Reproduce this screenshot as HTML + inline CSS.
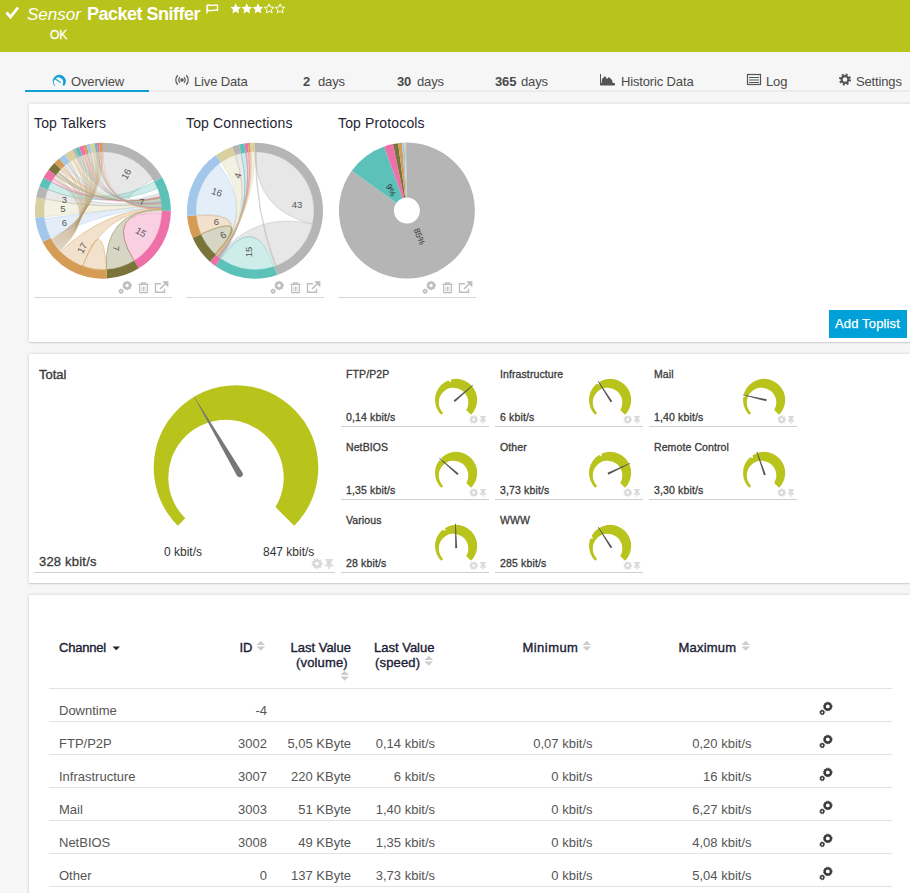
<!DOCTYPE html>
<html><head><meta charset="utf-8">
<style>
*{box-sizing:border-box;margin:0;padding:0}
html,body{width:910px;height:893px;overflow:hidden;background:#f6f6f6;font-family:"Liberation Sans",sans-serif;color:#333}
.a{position:absolute;white-space:nowrap;line-height:1}
#hdr{position:absolute;left:0;top:0;width:910px;height:52px;background:#b8c31c}
.panel{position:absolute;left:29px;width:890px;background:#fff;box-shadow:0 0 3px rgba(0,0,0,.16),0 1px 1px rgba(0,0,0,.08)}
.tab{font-size:13px;color:#4a4a4a;letter-spacing:-0.15px}
.ttl{font-size:14px;color:#1f2433;letter-spacing:0.15px}
.gt{font-size:10.5px;color:#3a3a3a;letter-spacing:0.1px;-webkit-text-stroke:0.3px #3a3a3a}
.gv{font-size:10.5px;color:#3a3a3a;letter-spacing:0.15px;-webkit-text-stroke:0.3px #3a3a3a}
.th{font-size:13px;color:#1b2035;letter-spacing:0.15px;-webkit-text-stroke:0.35px #1b2035}
.td{font-size:13px;color:#555}
.r{text-align:right}
svg{position:absolute;left:0;top:0}
</style></head><body>
<div id="hdr">
  <svg width="40" height="30" style="left:0;top:0"><path d="M6.5,12.5L10.5,17L18,7.5" fill="none" stroke="#fff" stroke-width="2.8"/></svg>
  <div class="a" style="left:27px;top:6px;font-size:17px;color:#fff;font-style:italic">Sensor</div>
  <div class="a" style="left:87px;top:5px;font-size:18px;color:#fff;font-weight:bold;letter-spacing:-0.5px">Packet Sniffer</div>
  <svg width="300" height="20" style="left:0;top:0">
   <path d="M207,13.5V4.8M207.5,5.2c2,-0.8 3.5,0.8 5,0.2c1.5,-0.5 3,-0.6 5,-0.2v5c-2,-0.5 -3.5,0 -5,0.3c-1.5,0.3 -3,0.2 -5,-0.2z" fill="none" stroke="#fff" stroke-width="1.4"/>
  </svg>
  <svg width="300" height="20" style="left:0;top:0"><path d="M235.70,3.30 L237.29,6.72 L241.03,7.17 L238.27,9.73 L238.99,13.43 L235.70,11.60 L232.41,13.43 L233.13,9.73 L230.37,7.17 L234.11,6.72Z" fill="#fff"/><path d="M246.80,3.30 L248.39,6.72 L252.13,7.17 L249.37,9.73 L250.09,13.43 L246.80,11.60 L243.51,13.43 L244.23,9.73 L241.47,7.17 L245.21,6.72Z" fill="#fff"/><path d="M258.00,3.30 L259.59,6.72 L263.33,7.17 L260.57,9.73 L261.29,13.43 L258.00,11.60 L254.71,13.43 L255.43,9.73 L252.67,7.17 L256.41,6.72Z" fill="#fff"/><path d="M269.20,3.90 L270.55,7.04 L273.96,7.35 L271.39,9.61 L272.14,12.95 L269.20,11.20 L266.26,12.95 L267.01,9.61 L264.44,7.35 L267.85,7.04Z" fill="none" stroke="#fff" stroke-width="1" stroke-linejoin="miter"/><path d="M280.10,3.90 L281.45,7.04 L284.86,7.35 L282.29,9.61 L283.04,12.95 L280.10,11.20 L277.16,12.95 L277.91,9.61 L275.34,7.35 L278.75,7.04Z" fill="none" stroke="#fff" stroke-width="1" stroke-linejoin="miter"/></svg>
  <div class="a" style="left:50px;top:29px;font-size:12px;color:#fff;-webkit-text-stroke:0.3px #fff">OK</div>
</div>
<!-- tabs -->
<div class="a" style="left:25px;top:90px;width:885px;height:2px;background:#ebebeb"></div>
<div class="a" style="left:25px;top:90px;width:124px;height:2px;background:#109fd9"></div>
<svg width="910" height="100" style="left:0;top:0">
 <path d="M54.64,86.01A6.58,6.58 0 1 1 63.96,86.01L62.46,84.51A4.62,4.62 0 1 0 55.24,85.41Z" fill="#109fd9"/>
 <path d="M55.4,79L60.4,82.4" stroke="#109fd9" stroke-width="1.1" stroke-linecap="round"/>
 <g fill="none" stroke="#555" stroke-width="1.2">
  <path d="M177.8,75.3A6.5,6.5 0 0 0 177.8,84.7M186.2,75.3A6.5,6.5 0 0 1 186.2,84.7"/>
  <path d="M180,77.2A3.8,3.8 0 0 0 180,82.8M184,77.2A3.8,3.8 0 0 1 184,82.8"/>
 </g>
 <circle cx="182" cy="80" r="1.7" fill="#555"/>
 <path d="M600.5,74v11h14v-1.5h-13" fill="#555" stroke="#555"/>
 <path d="M602,84L602,79L605,76L607,79L609,77L612,80L613,84Z" fill="#555"/>
 <rect x="747.5" y="74.5" width="13" height="10" fill="none" stroke="#555" stroke-width="1.2"/>
 <path d="M749,77.5h10M749,80h10M749,82.5h10" stroke="#555" stroke-width="1"/>
 <circle cx="845" cy="79.5" r="3.4" fill="none" stroke="#555" stroke-width="2.2"/>
 <circle cx="845" cy="79.5" r="5" fill="none" stroke="#555" stroke-width="2" stroke-dasharray="2 1.93"/>
</svg>
<div class="a tab" style="left:71px;top:75px">Overview</div>
<div class="a tab" style="left:194px;top:75px">Live Data</div>
<div class="a tab" style="left:303px;top:75px"><b>2</b></div><div class="a tab" style="left:318px;top:75px">days</div>
<div class="a tab" style="left:397px;top:75px"><b>30</b></div><div class="a tab" style="left:417px;top:75px">days</div>
<div class="a tab" style="left:495px;top:75px"><b>365</b></div><div class="a tab" style="left:521px;top:75px">days</div>
<div class="a tab" style="left:621px;top:75px">Historic Data</div>
<div class="a tab" style="left:766px;top:75px">Log</div>
<div class="a tab" style="left:856px;top:75px">Settings</div>

<!-- panel 1 -->
<div class="panel" style="top:104px;height:238px"></div>
<div class="a ttl" style="left:34px;top:116px">Top Talkers</div>
<div class="a ttl" style="left:186px;top:116px">Top Connections</div>
<div class="a ttl" style="left:338px;top:116px">Top Protocols</div>
<svg width="910" height="350">
 <path d="M102.90,151.70A59,59 0 0 1 152.93,179.43Q102.9,210.7 159.32,193.45A59,59 0 0 1 161.58,204.53Q102.9,210.7 102.90,151.70Z" fill="#b5b5b5" fill-opacity="0.33" stroke="#b5b5b5" stroke-opacity="0.7" stroke-width="0.6"/><path d="M154.25,181.65A59,59 0 0 1 157.60,188.60Q102.9,210.7 47.82,189.56A59,59 0 0 1 51.30,182.10Q102.9,210.7 154.25,181.65Z" fill="#5cc2b9" fill-opacity="0.3" stroke="#5cc2b9" stroke-opacity="0.7" stroke-width="0.6"/><path d="M161.86,212.76A59,59 0 0 1 134.17,260.73Q102.9,210.7 161.86,212.76Z" fill="#ee70a8" fill-opacity="0.33" stroke="#ee70a8" stroke-opacity="0.7" stroke-width="0.6"/><path d="M134.17,260.73A59,59 0 0 1 106.50,269.59Q102.9,210.7 161.86,208.64A59,59 0 0 1 161.90,210.70Q102.9,210.7 134.17,260.73Z" fill="#7a733a" fill-opacity="0.3" stroke="#7a733a" stroke-opacity="0.7" stroke-width="0.6"/><path d="M106.50,269.59A59,59 0 0 1 82.72,266.14Q102.9,210.7 106.50,269.59Z" fill="#d49c55" fill-opacity="0.3" stroke="#d49c55" stroke-opacity="0.7" stroke-width="0.6"/><path d="M82.72,266.14A59,59 0 0 1 60.46,251.68Q102.9,210.7 161.76,206.58A59,59 0 0 1 161.86,208.64Q102.9,210.7 82.72,266.14Z" fill="#d49c55" fill-opacity="0.3" stroke="#d49c55" stroke-opacity="0.7" stroke-width="0.6"/><path d="M50.33,237.49A59,59 0 0 1 44.47,218.91Q102.9,210.7 161.58,204.53A59,59 0 0 1 161.76,206.58Q102.9,210.7 50.33,237.49Z" fill="#a2c7ea" fill-opacity="0.3" stroke="#a2c7ea" stroke-opacity="0.7" stroke-width="0.6"/><path d="M44.22,216.87A59,59 0 0 1 44.98,199.44Q102.9,210.7 161.33,202.49A59,59 0 0 1 161.58,204.53Q102.9,210.7 44.22,216.87Z" fill="#d8d09f" fill-opacity="0.3" stroke="#d8d09f" stroke-opacity="0.7" stroke-width="0.6"/><path d="M45.08,198.94A59,59 0 0 1 47.82,189.56Q102.9,210.7 161.00,200.45A59,59 0 0 1 161.33,202.49Q102.9,210.7 45.08,198.94Z" fill="#b5b5b5" fill-opacity="0.3" stroke="#b5b5b5" stroke-opacity="0.7" stroke-width="0.6"/><path d="M51.30,182.10A59,59 0 0 1 53.42,178.57Q102.9,210.7 160.15,196.43A59,59 0 0 1 160.29,197.03Q102.9,210.7 51.30,182.10Z" fill="#ee70a8" fill-opacity="0.3" stroke="#ee70a8" stroke-opacity="0.5" stroke-width="0.6"/><path d="M53.42,178.57A59,59 0 0 1 55.78,175.19Q102.9,210.7 59.75,250.94A59,59 0 0 1 59.33,250.48Q102.9,210.7 53.42,178.57Z" fill="#b89a6e" fill-opacity="0.25" stroke="#b89a6e" stroke-opacity="0.45" stroke-width="0.6"/><path d="M55.78,175.19A59,59 0 0 1 58.20,172.19Q102.9,210.7 160.36,197.33A59,59 0 0 1 160.50,197.93Q102.9,210.7 55.78,175.19Z" fill="#7a733a" fill-opacity="0.3" stroke="#7a733a" stroke-opacity="0.5" stroke-width="0.6"/><path d="M58.20,172.19A59,59 0 0 1 60.82,169.35Q102.9,210.7 59.02,250.14A59,59 0 0 1 58.61,249.68Q102.9,210.7 58.20,172.19Z" fill="#b89a6e" fill-opacity="0.25" stroke="#b89a6e" stroke-opacity="0.45" stroke-width="0.6"/><path d="M60.82,169.35A59,59 0 0 1 62.85,167.37Q102.9,210.7 160.57,198.23A59,59 0 0 1 160.69,198.84Q102.9,210.7 60.82,169.35Z" fill="#d49c55" fill-opacity="0.3" stroke="#d49c55" stroke-opacity="0.5" stroke-width="0.6"/><path d="M62.85,167.37A59,59 0 0 1 64.98,165.50Q102.9,210.7 58.30,249.33A59,59 0 0 1 57.90,248.86Q102.9,210.7 62.85,167.37Z" fill="#b89a6e" fill-opacity="0.25" stroke="#b89a6e" stroke-opacity="0.45" stroke-width="0.6"/><path d="M64.98,165.50A59,59 0 0 1 67.39,163.58Q102.9,210.7 160.76,199.14A59,59 0 0 1 160.87,199.75Q102.9,210.7 64.98,165.50Z" fill="#a2c7ea" fill-opacity="0.3" stroke="#a2c7ea" stroke-opacity="0.5" stroke-width="0.6"/><path d="M67.39,163.58A59,59 0 0 1 69.91,161.79Q102.9,210.7 57.60,248.51A59,59 0 0 1 57.21,248.03Q102.9,210.7 67.39,163.58Z" fill="#b89a6e" fill-opacity="0.25" stroke="#b89a6e" stroke-opacity="0.45" stroke-width="0.6"/><path d="M69.91,161.79A59,59 0 0 1 73.18,159.73Q102.9,210.7 160.93,200.05A59,59 0 0 1 161.04,200.66Q102.9,210.7 69.91,161.79Z" fill="#d8d09f" fill-opacity="0.3" stroke="#d8d09f" stroke-opacity="0.5" stroke-width="0.6"/><path d="M73.18,159.73A59,59 0 0 1 76.57,157.90Q102.9,210.7 56.92,247.67A59,59 0 0 1 56.53,247.19Q102.9,210.7 73.18,159.73Z" fill="#b89a6e" fill-opacity="0.25" stroke="#b89a6e" stroke-opacity="0.45" stroke-width="0.6"/><path d="M76.57,157.90A59,59 0 0 1 77.73,157.34Q102.9,210.7 161.09,200.96A59,59 0 0 1 161.19,201.57Q102.9,210.7 76.57,157.90Z" fill="#b5b5b5" fill-opacity="0.3" stroke="#b5b5b5" stroke-opacity="0.5" stroke-width="0.6"/><path d="M77.73,157.34A59,59 0 0 1 78.90,156.80Q102.9,210.7 56.25,246.82A59,59 0 0 1 55.87,246.33Q102.9,210.7 77.73,157.34Z" fill="#b89a6e" fill-opacity="0.25" stroke="#b89a6e" stroke-opacity="0.45" stroke-width="0.6"/><path d="M78.90,156.80A59,59 0 0 1 80.56,156.09Q102.9,210.7 161.24,201.88A59,59 0 0 1 161.33,202.49Q102.9,210.7 78.90,156.80Z" fill="#5cc2b9" fill-opacity="0.3" stroke="#5cc2b9" stroke-opacity="0.5" stroke-width="0.6"/><path d="M80.56,156.09A59,59 0 0 1 82.24,155.44Q102.9,210.7 55.60,245.96A59,59 0 0 1 55.23,245.46Q102.9,210.7 80.56,156.09Z" fill="#b89a6e" fill-opacity="0.25" stroke="#b89a6e" stroke-opacity="0.45" stroke-width="0.6"/><path d="M82.24,155.44A59,59 0 0 1 84.18,154.75Q102.9,210.7 161.37,202.79A59,59 0 0 1 161.45,203.41Q102.9,210.7 82.24,155.44Z" fill="#ee70a8" fill-opacity="0.3" stroke="#ee70a8" stroke-opacity="0.5" stroke-width="0.6"/><path d="M84.18,154.75A59,59 0 0 1 86.14,154.13Q102.9,210.7 54.96,245.09A59,59 0 0 1 54.60,244.58Q102.9,210.7 84.18,154.75Z" fill="#b89a6e" fill-opacity="0.25" stroke="#b89a6e" stroke-opacity="0.45" stroke-width="0.6"/><path d="M86.14,154.13A59,59 0 0 1 87.38,153.78Q102.9,210.7 161.48,203.71A59,59 0 0 1 161.55,204.33Q102.9,210.7 86.14,154.13Z" fill="#d49c55" fill-opacity="0.3" stroke="#d49c55" stroke-opacity="0.5" stroke-width="0.6"/><path d="M87.38,153.78A59,59 0 0 1 88.63,153.45Q102.9,210.7 54.33,244.20A59,59 0 0 1 53.99,243.69Q102.9,210.7 87.38,153.78Z" fill="#b89a6e" fill-opacity="0.25" stroke="#b89a6e" stroke-opacity="0.45" stroke-width="0.6"/><path d="M88.63,153.45A59,59 0 0 1 90.13,153.10Q102.9,210.7 161.59,204.64A59,59 0 0 1 161.65,205.25Q102.9,210.7 88.63,153.45Z" fill="#a2c7ea" fill-opacity="0.3" stroke="#a2c7ea" stroke-opacity="0.5" stroke-width="0.6"/><path d="M90.13,153.10A59,59 0 0 1 91.64,152.78Q102.9,210.7 53.73,243.31A59,59 0 0 1 53.39,242.79Q102.9,210.7 90.13,153.10Z" fill="#b89a6e" fill-opacity="0.25" stroke="#b89a6e" stroke-opacity="0.45" stroke-width="0.6"/><path d="M91.64,152.78A59,59 0 0 1 93.67,152.43Q102.9,210.7 161.68,205.56A59,59 0 0 1 161.73,206.17Q102.9,210.7 91.64,152.78Z" fill="#d8d09f" fill-opacity="0.3" stroke="#d8d09f" stroke-opacity="0.5" stroke-width="0.6"/><path d="M93.67,152.43A59,59 0 0 1 95.71,152.14Q102.9,210.7 53.14,242.40A59,59 0 0 1 52.81,241.88Q102.9,210.7 93.67,152.43Z" fill="#b89a6e" fill-opacity="0.25" stroke="#b89a6e" stroke-opacity="0.45" stroke-width="0.6"/><path d="M95.71,152.14A59,59 0 0 1 96.73,152.02Q102.9,210.7 161.75,206.48A59,59 0 0 1 161.79,207.10Q102.9,210.7 95.71,152.14Z" fill="#5cc2b9" fill-opacity="0.3" stroke="#5cc2b9" stroke-opacity="0.5" stroke-width="0.6"/><path d="M96.73,152.02A59,59 0 0 1 97.76,151.92Q102.9,210.7 52.57,241.48A59,59 0 0 1 52.25,240.95Q102.9,210.7 96.73,152.02Z" fill="#b89a6e" fill-opacity="0.25" stroke="#b89a6e" stroke-opacity="0.45" stroke-width="0.6"/><path d="M97.76,151.92A59,59 0 0 1 98.78,151.84Q102.9,210.7 161.81,207.41A59,59 0 0 1 161.84,208.02Q102.9,210.7 97.76,151.92Z" fill="#ee70a8" fill-opacity="0.3" stroke="#ee70a8" stroke-opacity="0.5" stroke-width="0.6"/><path d="M98.78,151.84A59,59 0 0 1 99.81,151.78Q102.9,210.7 52.01,240.56A59,59 0 0 1 51.70,240.02Q102.9,210.7 98.78,151.84Z" fill="#b89a6e" fill-opacity="0.25" stroke="#b89a6e" stroke-opacity="0.45" stroke-width="0.6"/><path d="M99.81,151.78A59,59 0 0 1 101.36,151.72Q102.9,210.7 161.85,208.33A59,59 0 0 1 161.87,208.95Q102.9,210.7 99.81,151.78Z" fill="#d49c55" fill-opacity="0.3" stroke="#d49c55" stroke-opacity="0.5" stroke-width="0.6"/><path d="M101.36,151.72A59,59 0 0 1 102.90,151.70Q102.9,210.7 51.47,239.62A59,59 0 0 1 51.17,239.08Q102.9,210.7 101.36,151.72Z" fill="#b89a6e" fill-opacity="0.25" stroke="#b89a6e" stroke-opacity="0.45" stroke-width="0.6"/><path d="M102.90,142.70A68,68 0 0 1 162.08,177.22L154.25,181.65A59,59 0 0 0 102.90,151.70Z" fill="#b5b5b5"/><path d="M162.08,177.22A68,68 0 0 1 170.90,210.70L161.90,210.70A59,59 0 0 0 154.25,181.65Z" fill="#5cc2b9"/><path d="M170.90,210.70A68,68 0 0 1 138.93,268.37L134.17,260.73A59,59 0 0 0 161.90,210.70Z" fill="#ee70a8"/><path d="M138.93,268.37A68,68 0 0 1 107.05,278.57L106.50,269.59A59,59 0 0 0 134.17,260.73Z" fill="#7a733a"/><path d="M107.05,278.57A68,68 0 0 1 42.58,242.10L50.57,237.94A59,59 0 0 0 106.50,269.59Z" fill="#d49c55"/><path d="M42.58,242.10A68,68 0 0 1 35.27,217.81L44.22,216.87A59,59 0 0 0 50.57,237.94Z" fill="#a2c7ea"/><path d="M35.27,217.81A68,68 0 0 1 36.27,197.14L45.08,198.94A59,59 0 0 0 44.22,216.87Z" fill="#d8d09f"/><path d="M36.27,197.14A68,68 0 0 1 39.42,186.33L47.82,189.56A59,59 0 0 0 45.08,198.94Z" fill="#b5b5b5"/><path d="M39.42,186.33A68,68 0 0 1 43.43,177.73L51.30,182.10A59,59 0 0 0 47.82,189.56Z" fill="#5cc2b9"/><path d="M43.43,177.73A68,68 0 0 1 48.59,169.78L55.78,175.19A59,59 0 0 0 51.30,182.10Z" fill="#ee70a8"/><path d="M48.59,169.78A68,68 0 0 1 54.40,163.04L60.82,169.35A59,59 0 0 0 55.78,175.19Z" fill="#7a733a"/><path d="M54.40,163.04A68,68 0 0 1 59.19,158.61L64.98,165.50A59,59 0 0 0 60.82,169.35Z" fill="#d49c55"/><path d="M59.19,158.61A68,68 0 0 1 64.87,154.33L69.91,161.79A59,59 0 0 0 64.98,165.50Z" fill="#a2c7ea"/><path d="M64.87,154.33A68,68 0 0 1 72.56,149.84L76.57,157.90A59,59 0 0 0 69.91,161.79Z" fill="#d8d09f"/><path d="M72.56,149.84A68,68 0 0 1 75.24,148.58L78.90,156.80A59,59 0 0 0 76.57,157.90Z" fill="#b5b5b5"/><path d="M75.24,148.58A68,68 0 0 1 79.09,147.01L82.24,155.44A59,59 0 0 0 78.90,156.80Z" fill="#5cc2b9"/><path d="M79.09,147.01A68,68 0 0 1 83.59,145.50L86.14,154.13A59,59 0 0 0 82.24,155.44Z" fill="#ee70a8"/><path d="M83.59,145.50A68,68 0 0 1 86.45,144.72L88.63,153.45A59,59 0 0 0 86.14,154.13Z" fill="#d49c55"/><path d="M86.45,144.72A68,68 0 0 1 89.92,143.95L91.64,152.78A59,59 0 0 0 88.63,153.45Z" fill="#a2c7ea"/><path d="M89.92,143.95A68,68 0 0 1 94.61,143.21L95.71,152.14A59,59 0 0 0 91.64,152.78Z" fill="#d8d09f"/><path d="M94.61,143.21A68,68 0 0 1 96.97,142.96L97.76,151.92A59,59 0 0 0 95.71,152.14Z" fill="#5cc2b9"/><path d="M96.97,142.96A68,68 0 0 1 99.34,142.79L99.81,151.78A59,59 0 0 0 97.76,151.92Z" fill="#ee70a8"/><path d="M99.34,142.79A68,68 0 0 1 102.90,142.70L102.90,151.70A59,59 0 0 0 99.81,151.78Z" fill="#d49c55"/><text x="126" y="174" transform="rotate(-60 126 174)" text-anchor="middle" dominant-baseline="central" font-size="9.5" fill="#555">16</text><text x="142" y="201" transform="rotate(0 142 201)" text-anchor="middle" dominant-baseline="central" font-size="9.5" fill="#555">7</text><text x="141" y="232" transform="rotate(30 141 232)" text-anchor="middle" dominant-baseline="central" font-size="9.5" fill="#555">15</text><text x="116" y="248.5" transform="rotate(90 116 248.5)" text-anchor="middle" dominant-baseline="central" font-size="9.5" fill="#555">7</text><text x="82" y="248" transform="rotate(-60 82 248)" text-anchor="middle" dominant-baseline="central" font-size="9.5" fill="#555">17</text><text x="64.5" y="222.5" transform="rotate(0 64.5 222.5)" text-anchor="middle" dominant-baseline="central" font-size="9.5" fill="#555">6</text><text x="63" y="208.5" transform="rotate(0 63 208.5)" text-anchor="middle" dominant-baseline="central" font-size="9.5" fill="#555">5</text><text x="64.5" y="199.5" transform="rotate(0 64.5 199.5)" text-anchor="middle" dominant-baseline="central" font-size="9.5" fill="#555">3</text>
 <path d="M255.00,151.70A59,59 0 0 1 312.49,223.97Q255,210.7 255.00,151.70Z" fill="#b5b5b5" fill-opacity="0.33" stroke="#b5b5b5" stroke-opacity="0.7" stroke-width="0.6"/><path d="M312.49,223.97A59,59 0 0 1 275.18,266.14Q255,210.7 220.32,258.43A59,59 0 0 1 217.87,256.55Q255,210.7 312.49,223.97Z" fill="#b5b5b5" fill-opacity="0.33" stroke="#b5b5b5" stroke-opacity="0.7" stroke-width="0.6"/><path d="M255.31,151.70A59,59 0 0 1 256.24,151.71Q255,210.7 276.14,265.78A59,59 0 0 1 275.18,266.14Q255,210.7 255.31,151.70Z" fill="#b5b5b5" fill-opacity="0.2" stroke="#b5b5b5" stroke-opacity="0.7" stroke-width="0.6"/><path d="M273.72,266.65A59,59 0 0 1 220.74,258.73Q255,210.7 273.72,266.65Z" fill="#5cc2b9" fill-opacity="0.3" stroke="#5cc2b9" stroke-opacity="0.7" stroke-width="0.6"/><path d="M196.14,214.82A59,59 0 0 1 218.68,164.21Q255,210.7 217.87,256.55A59,59 0 0 1 216.68,255.56Q255,210.7 196.14,214.82Z" fill="#a2c7ea" fill-opacity="0.3" stroke="#a2c7ea" stroke-opacity="0.7" stroke-width="0.6"/><path d="M221.16,162.37A59,59 0 0 1 234.82,155.26Q255,210.7 216.68,255.56A59,59 0 0 1 215.91,254.89Q255,210.7 221.16,162.37Z" fill="#d8d09f" fill-opacity="0.3" stroke="#d8d09f" stroke-opacity="0.7" stroke-width="0.6"/><path d="M200.69,233.75A59,59 0 0 1 196.22,215.84Q255,210.7 215.52,254.55A59,59 0 0 1 214.76,253.85Q255,210.7 200.69,233.75Z" fill="#d49c55" fill-opacity="0.3" stroke="#d49c55" stroke-opacity="0.7" stroke-width="0.6"/><path d="M215.91,254.89A59,59 0 0 1 200.89,234.23Q255,210.7 215.91,254.89Z" fill="#7a733a" fill-opacity="0.3" stroke="#7a733a" stroke-opacity="0.7" stroke-width="0.6"/><path d="M235.21,155.12A59,59 0 0 1 241.13,153.35Q255,210.7 220.32,258.43A59,59 0 0 1 219.49,257.82Q255,210.7 235.21,155.12Z" fill="#b5b5b5" fill-opacity="0.3" stroke="#b5b5b5" stroke-opacity="0.7" stroke-width="0.6"/><path d="M241.13,153.35A59,59 0 0 1 245.77,152.43Q255,210.7 219.49,257.82A59,59 0 0 1 218.68,257.19Q255,210.7 241.13,153.35Z" fill="#5cc2b9" fill-opacity="0.3" stroke="#5cc2b9" stroke-opacity="0.7" stroke-width="0.6"/><path d="M245.77,152.43A59,59 0 0 1 248.83,152.02Q255,210.7 218.68,257.19A59,59 0 0 1 217.47,256.23Q255,210.7 245.77,152.43Z" fill="#ee70a8" fill-opacity="0.45" stroke="#ee70a8" stroke-opacity="0.7" stroke-width="0.6"/><path d="M248.83,152.02A59,59 0 0 1 250.88,151.84Q255,210.7 217.87,256.55A59,59 0 0 1 217.08,255.90Q255,210.7 248.83,152.02Z" fill="#d49c55" fill-opacity="0.3" stroke="#d49c55" stroke-opacity="0.7" stroke-width="0.6"/><path d="M250.88,151.84A59,59 0 0 1 254.69,151.70Q255,210.7 217.08,255.90A59,59 0 0 1 216.29,255.23Q255,210.7 250.88,151.84Z" fill="#d8d09f" fill-opacity="0.3" stroke="#d8d09f" stroke-opacity="0.7" stroke-width="0.6"/><path d="M255.00,142.70A68,68 0 0 1 277.14,275.00L274.21,266.49A59,59 0 0 0 255.00,151.70Z" fill="#b5b5b5"/><path d="M277.14,275.00A68,68 0 0 1 215.32,265.92L220.57,258.61A59,59 0 0 0 274.21,266.49Z" fill="#5cc2b9"/><path d="M215.32,265.92A68,68 0 0 1 209.94,261.63L215.91,254.89A59,59 0 0 0 220.57,258.61Z" fill="#ee70a8"/><path d="M209.94,261.63A68,68 0 0 1 192.64,237.81L200.89,234.23A59,59 0 0 0 215.91,254.89Z" fill="#7a733a"/><path d="M192.64,237.81A68,68 0 0 1 187.20,215.92L196.17,215.23A59,59 0 0 0 200.89,234.23Z" fill="#d49c55"/><path d="M187.20,215.92A68,68 0 0 1 216.00,155.00L221.16,162.37A59,59 0 0 0 196.17,215.23Z" fill="#a2c7ea"/><path d="M216.00,155.00A68,68 0 0 1 232.19,146.64L235.21,155.12A59,59 0 0 0 221.16,162.37Z" fill="#d8d09f"/><path d="M232.19,146.64A68,68 0 0 1 239.01,144.61L241.13,153.35A59,59 0 0 0 235.21,155.12Z" fill="#b5b5b5"/><path d="M239.01,144.61A68,68 0 0 1 244.36,143.54L245.77,152.43A59,59 0 0 0 241.13,153.35Z" fill="#5cc2b9"/><path d="M244.36,143.54A68,68 0 0 1 247.89,143.07L248.83,152.02A59,59 0 0 0 245.77,152.43Z" fill="#ee70a8"/><path d="M247.89,143.07A68,68 0 0 1 250.26,142.87L250.88,151.84A59,59 0 0 0 248.83,152.02Z" fill="#d49c55"/><path d="M250.26,142.87A68,68 0 0 1 255.00,142.70L255.00,151.70A59,59 0 0 0 250.88,151.84Z" fill="#d8d09f"/><text x="237.5" y="175.5" transform="rotate(-70 237.5 175.5)" text-anchor="middle" dominant-baseline="central" font-size="9.5" fill="#555">4</text><text x="217" y="192" transform="rotate(20 217 192)" text-anchor="middle" dominant-baseline="central" font-size="9.5" fill="#555">16</text><text x="297" y="204" transform="rotate(0 297 204)" text-anchor="middle" dominant-baseline="central" font-size="9.5" fill="#555">43</text><text x="216.5" y="221.5" transform="rotate(0 216.5 221.5)" text-anchor="middle" dominant-baseline="central" font-size="9.5" fill="#555">6</text><text x="223" y="235" transform="rotate(-30 223 235)" text-anchor="middle" dominant-baseline="central" font-size="9.5" fill="#555">6</text><text x="248.5" y="252" transform="rotate(-90 248.5 252)" text-anchor="middle" dominant-baseline="central" font-size="9.5" fill="#555">15</text>
 <path d="M406.90,142.60A68,68 0 1 1 351.75,170.82L396.36,203.00A13,13 0 1 0 406.90,197.60Z" fill="#b5b5b5"/><path d="M351.75,170.82A68,68 0 0 1 384.20,146.50L402.56,198.35A13,13 0 0 0 396.36,203.00Z" fill="#5cc2b9"/><path d="M384.20,146.50A68,68 0 0 1 392.99,144.04L404.24,197.87A13,13 0 0 0 402.56,198.35Z" fill="#ee70a8"/><path d="M392.99,144.04A68,68 0 0 1 398.14,143.17L405.23,197.71A13,13 0 0 0 404.24,197.87Z" fill="#7a733a"/><path d="M398.14,143.17A68,68 0 0 1 402.04,142.77L405.97,197.63A13,13 0 0 0 405.23,197.71Z" fill="#d49c55"/><path d="M402.04,142.77A68,68 0 0 1 404.53,142.64L406.45,197.61A13,13 0 0 0 405.97,197.63Z" fill="#a2c7ea"/><path d="M404.53,142.64A68,68 0 0 1 405.83,142.61L406.70,197.60A13,13 0 0 0 406.45,197.61Z" fill="#d8d09f"/><path d="M405.83,142.61A68,68 0 0 1 406.90,142.60L406.90,197.60A13,13 0 0 0 406.70,197.60Z" fill="#b5b5b5"/>
 <text x="391" y="190" transform="rotate(62 391 190)" text-anchor="middle" dominant-baseline="central" font-size="8.6" fill="#333">9%</text>
 <text x="419.5" y="236.5" transform="rotate(68 419.5 236.5)" text-anchor="middle" dominant-baseline="central" font-size="8.6" fill="#333">85%</text>
 <rect x="34" y="297" width="138" height="1" fill="#d6d6d6"/>
 <rect x="186" y="297" width="138" height="1" fill="#d6d6d6"/>
 <rect x="338" y="297" width="138" height="1" fill="#d6d6d6"/>
 <g fill="none" stroke="#bdbdbd"><circle cx="127.10" cy="285.50" r="2.9" stroke-width="2.4"/><circle cx="127.10" cy="285.50" r="4.1" stroke-width="1.1" stroke-dasharray="1.3 1.28"/><circle cx="121.10" cy="291.20" r="1.5" stroke-width="1.4"/><circle cx="121.10" cy="291.20" r="2.3" stroke-width="0.8" stroke-dasharray="0.9 0.9"/><path d="M138.30,284.30h10.4M141.50,284.20v-1.3h4v1.3M139.70,285.00v7.6h7.6v-7.6" stroke-width="1.2"/><path d="M142.00,286.50v4.8M143.50,286.50v4.8M145.00,286.50v4.8" stroke-width="0.8"/><path d="M161.00,283.80h-5.5v8.5h9v-3.5" stroke-width="1.4"/><path d="M160.00,289.00l5.5,-5.5" stroke-width="1.6"/><path d="M162.20,281.20h6.2v6.2z" fill="#bdbdbd" stroke="none"/></g>
 <g fill="none" stroke="#bdbdbd"><circle cx="279.10" cy="285.50" r="2.9" stroke-width="2.4"/><circle cx="279.10" cy="285.50" r="4.1" stroke-width="1.1" stroke-dasharray="1.3 1.28"/><circle cx="273.10" cy="291.20" r="1.5" stroke-width="1.4"/><circle cx="273.10" cy="291.20" r="2.3" stroke-width="0.8" stroke-dasharray="0.9 0.9"/><path d="M290.30,284.30h10.4M293.50,284.20v-1.3h4v1.3M291.70,285.00v7.6h7.6v-7.6" stroke-width="1.2"/><path d="M294.00,286.50v4.8M295.50,286.50v4.8M297.00,286.50v4.8" stroke-width="0.8"/><path d="M313.00,283.80h-5.5v8.5h9v-3.5" stroke-width="1.4"/><path d="M312.00,289.00l5.5,-5.5" stroke-width="1.6"/><path d="M314.20,281.20h6.2v6.2z" fill="#bdbdbd" stroke="none"/></g>
 <g fill="none" stroke="#bdbdbd"><circle cx="431.10" cy="285.50" r="2.9" stroke-width="2.4"/><circle cx="431.10" cy="285.50" r="4.1" stroke-width="1.1" stroke-dasharray="1.3 1.28"/><circle cx="425.10" cy="291.20" r="1.5" stroke-width="1.4"/><circle cx="425.10" cy="291.20" r="2.3" stroke-width="0.8" stroke-dasharray="0.9 0.9"/><path d="M442.30,284.30h10.4M445.50,284.20v-1.3h4v1.3M443.70,285.00v7.6h7.6v-7.6" stroke-width="1.2"/><path d="M446.00,286.50v4.8M447.50,286.50v4.8M449.00,286.50v4.8" stroke-width="0.8"/><path d="M465.00,283.80h-5.5v8.5h9v-3.5" stroke-width="1.4"/><path d="M464.00,289.00l5.5,-5.5" stroke-width="1.6"/><path d="M466.20,281.20h6.2v6.2z" fill="#bdbdbd" stroke="none"/></g>
</svg>
<div class="a" style="left:829px;top:310px;width:78px;height:28px;background:#00a1d9"></div>
<div class="a" style="left:835px;top:317px;font-size:13px;color:#fff;letter-spacing:0.15px;-webkit-text-stroke:0.25px #fff">Add Toplist</div>

<!-- panel 2 -->
<div class="panel" style="top:354px;height:229px"></div>
<div class="a" style="left:39px;top:368px;font-size:13px;color:#3a3a3a;-webkit-text-stroke:0.35px #3a3a3a">Total</div>
<div class="a" style="left:39px;top:555px;font-size:13px;color:#3a3a3a;letter-spacing:0.2px;-webkit-text-stroke:0.3px #3a3a3a">328 kbit/s</div>
<div class="a" style="left:34px;top:572px;width:301px;height:1px;background:#cfcfcf"></div>
<div class="a" style="left:164px;top:546px;font-size:12px;color:#333">0 kbit/s</div>
<div class="a" style="left:263px;top:546px;font-size:12px;color:#333">847 kbit/s</div>
<div class="a gt" style="left:346px;top:369px">FTP/P2P</div><div class="a gv" style="left:346px;top:412px">0,14 kbit/s</div><div class="a" style="left:341px;top:426px;width:148px;height:1px;background:#cfcfcf"></div><div class="a gt" style="left:500px;top:369px">Infrastructure</div><div class="a gv" style="left:500px;top:412px">6 kbit/s</div><div class="a" style="left:495px;top:426px;width:148px;height:1px;background:#cfcfcf"></div><div class="a gt" style="left:654px;top:369px">Mail</div><div class="a gv" style="left:654px;top:412px">1,40 kbit/s</div><div class="a" style="left:649px;top:426px;width:148px;height:1px;background:#cfcfcf"></div><div class="a gt" style="left:346px;top:442px">NetBIOS</div><div class="a gv" style="left:346px;top:485px">1,35 kbit/s</div><div class="a" style="left:341px;top:499px;width:148px;height:1px;background:#cfcfcf"></div><div class="a gt" style="left:500px;top:442px">Other</div><div class="a gv" style="left:500px;top:485px">3,73 kbit/s</div><div class="a" style="left:495px;top:499px;width:148px;height:1px;background:#cfcfcf"></div><div class="a gt" style="left:654px;top:442px">Remote Control</div><div class="a gv" style="left:654px;top:485px">3,30 kbit/s</div><div class="a" style="left:649px;top:499px;width:148px;height:1px;background:#cfcfcf"></div><div class="a gt" style="left:346px;top:515px">Various</div><div class="a gv" style="left:346px;top:558px">28 kbit/s</div><div class="a" style="left:341px;top:572px;width:148px;height:1px;background:#cfcfcf"></div><div class="a gt" style="left:500px;top:515px">WWW</div><div class="a gv" style="left:500px;top:558px">285 kbit/s</div><div class="a" style="left:495px;top:572px;width:148px;height:1px;background:#cfcfcf"></div>
<svg width="910" height="600">
 <path d="M177.81,525.79A82.3,82.3 0 1 1 294.19,525.79L275.52,507.12A57.7,57.7 0 1 0 185.25,518.35Z" fill="#b8c31c"/>
 <path d="M192.60,394.00L236.84,475.62A3.2,3.2 0 0 0 242.36,472.38Z" fill="#777"/>
 <g fill="#d9d9d9" stroke="none"><circle cx="317.01" cy="563.68" r="3.12" fill="none" stroke="#d9d9d9" stroke-width="2.60"/><circle cx="317.01" cy="563.68" r="4.68" fill="none" stroke="#d9d9d9" stroke-width="1.69" stroke-dasharray="1.56 1.47"/><rect x="325.46" y="559.00" width="7.28" height="1.82"/><rect x="326.76" y="560.56" width="4.68" height="4.16"/><rect x="324.94" y="564.59" width="8.32" height="1.82"/><rect x="328.32" y="566.15" width="1.56" height="2.99"/></g>
 <path d="M441.20,414.80A21.07,21.07 0 1 1 471.00,414.80L466.22,410.02A14.77,14.77 0 1 0 443.11,412.89Z" fill="#b8c31c"/><path d="M450.75,382.40L446.83,379.07L451.36,377.60Z" fill="#fff"/><path d="M454.93,402.02L473.01,385.62L472.55,385.09L453.63,400.51Z" fill="#555"/><g fill="#d9d9d9" stroke="none"><circle cx="473.70" cy="419.60" r="2.40" fill="none" stroke="#d9d9d9" stroke-width="2.00"/><circle cx="473.70" cy="419.60" r="3.60" fill="none" stroke="#d9d9d9" stroke-width="1.30" stroke-dasharray="1.20 1.13"/><rect x="480.20" y="416.00" width="5.60" height="1.40"/><rect x="481.20" y="417.20" width="3.60" height="3.20"/><rect x="479.80" y="420.30" width="6.40" height="1.40"/><rect x="482.40" y="421.50" width="1.20" height="2.30"/></g><path d="M595.20,414.80A21.07,21.07 0 1 1 625.00,414.80L620.22,410.02A14.77,14.77 0 1 0 597.11,412.89Z" fill="#b8c31c"/><path d="M599.87,384.73L595.14,382.69L599.05,379.96Z" fill="#fff"/><path d="M612.24,401.17L598.44,381.04L597.86,381.42L610.56,402.26Z" fill="#555"/><g fill="#d9d9d9" stroke="none"><circle cx="627.70" cy="419.60" r="2.40" fill="none" stroke="#d9d9d9" stroke-width="2.00"/><circle cx="627.70" cy="419.60" r="3.60" fill="none" stroke="#d9d9d9" stroke-width="1.30" stroke-dasharray="1.20 1.13"/><rect x="634.20" y="416.00" width="5.60" height="1.40"/><rect x="635.20" y="417.20" width="3.60" height="3.20"/><rect x="633.80" y="420.30" width="6.40" height="1.40"/><rect x="636.40" y="421.50" width="1.20" height="2.30"/></g><path d="M749.20,414.80A21.07,21.07 0 1 1 779.00,414.80L774.22,410.02A14.77,14.77 0 1 0 751.11,412.89Z" fill="#b8c31c"/><path d="M746.20,396.10L741.39,397.91L742.30,393.23Z" fill="#fff"/><path d="M766.66,399.27L742.74,394.41L742.59,395.09L766.21,401.21Z" fill="#555"/><g fill="#d9d9d9" stroke="none"><circle cx="781.70" cy="419.60" r="2.40" fill="none" stroke="#d9d9d9" stroke-width="2.00"/><circle cx="781.70" cy="419.60" r="3.60" fill="none" stroke="#d9d9d9" stroke-width="1.30" stroke-dasharray="1.20 1.13"/><rect x="788.20" y="416.00" width="5.60" height="1.40"/><rect x="789.20" y="417.20" width="3.60" height="3.20"/><rect x="787.80" y="420.30" width="6.40" height="1.40"/><rect x="790.40" y="421.50" width="1.20" height="2.30"/></g><path d="M441.20,487.80A21.07,21.07 0 1 1 471.00,487.80L466.22,483.02A14.77,14.77 0 1 0 443.11,485.89Z" fill="#b8c31c"/><path d="M442.50,460.65L437.42,459.82L440.55,456.23Z" fill="#fff"/><path d="M458.57,473.51L439.65,458.09L439.19,458.62L457.27,475.02Z" fill="#555"/><g fill="#d9d9d9" stroke="none"><circle cx="473.70" cy="492.60" r="2.40" fill="none" stroke="#d9d9d9" stroke-width="2.00"/><circle cx="473.70" cy="492.60" r="3.60" fill="none" stroke="#d9d9d9" stroke-width="1.30" stroke-dasharray="1.20 1.13"/><rect x="480.20" y="489.00" width="5.60" height="1.40"/><rect x="481.20" y="490.20" width="3.60" height="3.20"/><rect x="479.80" y="493.30" width="6.40" height="1.40"/><rect x="482.40" y="494.50" width="1.20" height="2.30"/></g><path d="M595.20,487.80A21.07,21.07 0 1 1 625.00,487.80L620.22,483.02A14.77,14.77 0 1 0 597.11,485.89Z" fill="#b8c31c"/><path d="M601.79,456.59L597.35,454.00L601.56,451.76Z" fill="#fff"/><path d="M608.36,474.63L630.14,463.61L629.84,462.98L607.50,472.82Z" fill="#555"/><g fill="#d9d9d9" stroke="none"><circle cx="627.70" cy="492.60" r="2.40" fill="none" stroke="#d9d9d9" stroke-width="2.00"/><circle cx="627.70" cy="492.60" r="3.60" fill="none" stroke="#d9d9d9" stroke-width="1.30" stroke-dasharray="1.20 1.13"/><rect x="634.20" y="489.00" width="5.60" height="1.40"/><rect x="635.20" y="490.20" width="3.60" height="3.20"/><rect x="633.80" y="493.30" width="6.40" height="1.40"/><rect x="636.40" y="494.50" width="1.20" height="2.30"/></g><path d="M749.20,487.80A21.07,21.07 0 1 1 779.00,487.80L774.22,483.02A14.77,14.77 0 1 0 751.11,485.89Z" fill="#b8c31c"/><path d="M753.09,458.28L748.26,456.50L752.02,453.56Z" fill="#fff"/><path d="M765.83,474.64L757.23,451.80L756.57,452.03L763.94,475.30Z" fill="#555"/><g fill="#d9d9d9" stroke="none"><circle cx="781.70" cy="492.60" r="2.40" fill="none" stroke="#d9d9d9" stroke-width="2.00"/><circle cx="781.70" cy="492.60" r="3.60" fill="none" stroke="#d9d9d9" stroke-width="1.30" stroke-dasharray="1.20 1.13"/><rect x="788.20" y="489.00" width="5.60" height="1.40"/><rect x="789.20" y="490.20" width="3.60" height="3.20"/><rect x="787.80" y="493.30" width="6.40" height="1.40"/><rect x="790.40" y="494.50" width="1.20" height="2.30"/></g><path d="M441.20,560.80A21.07,21.07 0 1 1 471.00,560.80L466.22,556.02A14.77,14.77 0 1 0 443.11,558.89Z" fill="#b8c31c"/><path d="M445.60,530.91L440.84,528.96L444.70,526.15Z" fill="#fff"/><path d="M457.17,548.07L455.84,523.70L455.14,523.72L455.17,548.13Z" fill="#555"/><g fill="#d9d9d9" stroke="none"><circle cx="473.70" cy="565.60" r="2.40" fill="none" stroke="#d9d9d9" stroke-width="2.00"/><circle cx="473.70" cy="565.60" r="3.60" fill="none" stroke="#d9d9d9" stroke-width="1.30" stroke-dasharray="1.20 1.13"/><rect x="480.20" y="562.00" width="5.60" height="1.40"/><rect x="481.20" y="563.20" width="3.60" height="3.20"/><rect x="479.80" y="566.30" width="6.40" height="1.40"/><rect x="482.40" y="567.50" width="1.20" height="2.30"/></g><path d="M595.20,560.80A21.07,21.07 0 1 1 625.00,560.80L620.22,556.02A14.77,14.77 0 1 0 597.11,558.89Z" fill="#b8c31c"/><path d="M593.51,538.17L588.42,538.85L590.35,534.50Z" fill="#fff"/><path d="M612.24,547.18L598.54,526.98L597.95,527.35L610.55,548.26Z" fill="#555"/><g fill="#d9d9d9" stroke="none"><circle cx="627.70" cy="565.60" r="2.40" fill="none" stroke="#d9d9d9" stroke-width="2.00"/><circle cx="627.70" cy="565.60" r="3.60" fill="none" stroke="#d9d9d9" stroke-width="1.30" stroke-dasharray="1.20 1.13"/><rect x="634.20" y="562.00" width="5.60" height="1.40"/><rect x="635.20" y="563.20" width="3.60" height="3.20"/><rect x="633.80" y="566.30" width="6.40" height="1.40"/><rect x="636.40" y="567.50" width="1.20" height="2.30"/></g>
</svg>

<!-- panel 3 -->
<div class="panel" style="top:595px;height:310px"></div>

<div class="a th" style="left:59px;top:641px;letter-spacing:-0.2px">Channel</div>
<div class="a th" style="left:239.5px;top:641px;letter-spacing:0">ID</div>
<div class="a th" style="left:290.5px;top:641px;letter-spacing:0">Last Value</div>
<div class="a th" style="left:296px;top:656px">(volume)</div>
<div class="a th" style="left:374px;top:641px;letter-spacing:0">Last Value</div>
<div class="a th" style="left:375px;top:656px">(speed)</div>
<div class="a th" style="left:522.5px;top:641px;letter-spacing:0.45px">Minimum</div>
<div class="a th" style="left:678.5px;top:641px;letter-spacing:0.2px">Maximum</div>
<svg width="910" height="893">
 <path d="M112.5,646.5h7.5l-3.75,3.8z" fill="#1b2130"/>
 <g fill="#ccc">
  <path d="M256.5,645h8.5l-4.25,-4.2z M256.5,646.5h8.5l-4.25,4.2z"/>
  <path d="M340.5,675h8.5l-4.25,-4.2z M340.5,676.5h8.5l-4.25,4.2z"/>
  <path d="M424.5,660h8.5l-4.25,-4.2z M424.5,661.5h8.5l-4.25,4.2z"/>
  <path d="M582.5,645h8.5l-4.25,-4.2z M582.5,646.5h8.5l-4.25,4.2z"/>
  <path d="M741.5,645h8.5l-4.25,-4.2z M741.5,646.5h8.5l-4.25,4.2z"/>
 </g>
<rect x="49" y="688" width="843" height="1" fill="#e3e3e3"/><rect x="49" y="721" width="843" height="1" fill="#e3e3e3"/><rect x="49" y="754" width="843" height="1" fill="#e3e3e3"/><rect x="49" y="787" width="843" height="1" fill="#e3e3e3"/><rect x="49" y="820" width="843" height="1" fill="#e3e3e3"/><rect x="49" y="853" width="843" height="1" fill="#e3e3e3"/><rect x="49" y="886" width="843" height="1" fill="#e3e3e3"/><circle cx="827.8" cy="706.4" r="3.1" fill="none" stroke="#3a3a3a" stroke-width="2.3"/><circle cx="827.8" cy="706.4" r="4.3" fill="none" stroke="#3a3a3a" stroke-width="1" stroke-dasharray="1.1 1.15"/><circle cx="822.2" cy="712.4" r="1.6" fill="none" stroke="#3a3a3a" stroke-width="1.5"/><circle cx="822.2" cy="712.4" r="2.5" fill="none" stroke="#3a3a3a" stroke-width="0.8" stroke-dasharray="0.9 1.06"/><circle cx="827.8" cy="739.4" r="3.1" fill="none" stroke="#3a3a3a" stroke-width="2.3"/><circle cx="827.8" cy="739.4" r="4.3" fill="none" stroke="#3a3a3a" stroke-width="1" stroke-dasharray="1.1 1.15"/><circle cx="822.2" cy="745.4" r="1.6" fill="none" stroke="#3a3a3a" stroke-width="1.5"/><circle cx="822.2" cy="745.4" r="2.5" fill="none" stroke="#3a3a3a" stroke-width="0.8" stroke-dasharray="0.9 1.06"/><circle cx="827.8" cy="772.4" r="3.1" fill="none" stroke="#3a3a3a" stroke-width="2.3"/><circle cx="827.8" cy="772.4" r="4.3" fill="none" stroke="#3a3a3a" stroke-width="1" stroke-dasharray="1.1 1.15"/><circle cx="822.2" cy="778.4" r="1.6" fill="none" stroke="#3a3a3a" stroke-width="1.5"/><circle cx="822.2" cy="778.4" r="2.5" fill="none" stroke="#3a3a3a" stroke-width="0.8" stroke-dasharray="0.9 1.06"/><circle cx="827.8" cy="805.4" r="3.1" fill="none" stroke="#3a3a3a" stroke-width="2.3"/><circle cx="827.8" cy="805.4" r="4.3" fill="none" stroke="#3a3a3a" stroke-width="1" stroke-dasharray="1.1 1.15"/><circle cx="822.2" cy="811.4" r="1.6" fill="none" stroke="#3a3a3a" stroke-width="1.5"/><circle cx="822.2" cy="811.4" r="2.5" fill="none" stroke="#3a3a3a" stroke-width="0.8" stroke-dasharray="0.9 1.06"/><circle cx="827.8" cy="838.4" r="3.1" fill="none" stroke="#3a3a3a" stroke-width="2.3"/><circle cx="827.8" cy="838.4" r="4.3" fill="none" stroke="#3a3a3a" stroke-width="1" stroke-dasharray="1.1 1.15"/><circle cx="822.2" cy="844.4" r="1.6" fill="none" stroke="#3a3a3a" stroke-width="1.5"/><circle cx="822.2" cy="844.4" r="2.5" fill="none" stroke="#3a3a3a" stroke-width="0.8" stroke-dasharray="0.9 1.06"/><circle cx="827.8" cy="871.4" r="3.1" fill="none" stroke="#3a3a3a" stroke-width="2.3"/><circle cx="827.8" cy="871.4" r="4.3" fill="none" stroke="#3a3a3a" stroke-width="1" stroke-dasharray="1.1 1.15"/><circle cx="822.2" cy="877.4" r="1.6" fill="none" stroke="#3a3a3a" stroke-width="1.5"/><circle cx="822.2" cy="877.4" r="2.5" fill="none" stroke="#3a3a3a" stroke-width="0.8" stroke-dasharray="0.9 1.06"/></svg><div class="a td" style="left:59px;top:704px">Downtime</div><div class="a td r" style="right:643px;top:704px">-4</div><div class="a td" style="left:59px;top:737px">FTP/P2P</div><div class="a td r" style="right:643px;top:737px">3002</div><div class="a td r" style="right:559px;top:737px">5,05 KByte</div><div class="a td r" style="right:475px;top:737px">0,14 kbit/s</div><div class="a td r" style="right:317.5px;top:737px">0,07 kbit/s</div><div class="a td r" style="right:158.5px;top:737px">0,20 kbit/s</div><div class="a td" style="left:59px;top:770px">Infrastructure</div><div class="a td r" style="right:643px;top:770px">3007</div><div class="a td r" style="right:559px;top:770px">220 KByte</div><div class="a td r" style="right:475px;top:770px">6 kbit/s</div><div class="a td r" style="right:317.5px;top:770px">0 kbit/s</div><div class="a td r" style="right:158.5px;top:770px">16 kbit/s</div><div class="a td" style="left:59px;top:803px">Mail</div><div class="a td r" style="right:643px;top:803px">3003</div><div class="a td r" style="right:559px;top:803px">51 KByte</div><div class="a td r" style="right:475px;top:803px">1,40 kbit/s</div><div class="a td r" style="right:317.5px;top:803px">0 kbit/s</div><div class="a td r" style="right:158.5px;top:803px">6,27 kbit/s</div><div class="a td" style="left:59px;top:836px">NetBIOS</div><div class="a td r" style="right:643px;top:836px">3008</div><div class="a td r" style="right:559px;top:836px">49 KByte</div><div class="a td r" style="right:475px;top:836px">1,35 kbit/s</div><div class="a td r" style="right:317.5px;top:836px">0 kbit/s</div><div class="a td r" style="right:158.5px;top:836px">4,08 kbit/s</div><div class="a td" style="left:59px;top:869px">Other</div><div class="a td r" style="right:643px;top:869px">0</div><div class="a td r" style="right:559px;top:869px">137 KByte</div><div class="a td r" style="right:475px;top:869px">3,73 kbit/s</div><div class="a td r" style="right:317.5px;top:869px">0 kbit/s</div><div class="a td r" style="right:158.5px;top:869px">5,04 kbit/s</div></body></html>
